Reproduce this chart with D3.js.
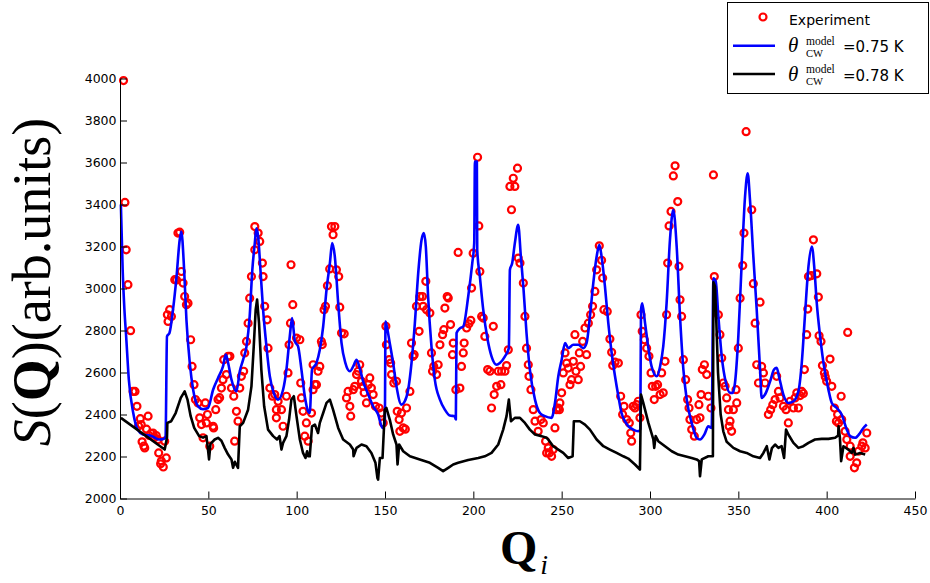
<!DOCTYPE html>
<html>
<head>
<meta charset="utf-8">
<script src="https://cdn.jsdelivr.net/npm/d3@7"></script>
<style>
body { margin: 0; background: #fff; }
.axis text { font-family: "DejaVu Sans", sans-serif; font-size: 12.5px; fill: #000; }
.axis path, .axis line { stroke: #000; }
</style>
</head>
<body>
<div id="chart"></div>
<script>
// values: [Q_i, S(Q)]
var experiment = [
  [2,3990],[2.8,3410],[3.5,3184],[4.5,3018],[6,2799],[7.4,2510],[8.5,2510],[9.6,2439],[10.5,2345],[11.5,2380],
  [12,2352],[12.5,2270],[13.5,2250],[14,2241],[15,2330],[15.9,2392],[16.5,2300],[17.5,2310],[18.7,2312],[19.5,2290],
  [20.5,2300],[21.5,2280],[21.9,2217],[23,2165],[23.4,2178],[24.5,2150],[25.3,2273],[26.2,2193],[26.8,2875],[27.2,2843],
  [28.1,2899],[29.1,2867],[31,3042],[32,3040],[32.8,3264],[33.8,3268],[34.7,3081],[35.7,3026],[36.6,2962],[37.6,2923],
  [38.5,2930],[40,2756],[40.8,2629],[41.9,2542],[42.7,2471],[44.2,2455],[45.1,2384],[46.1,2352],[47,2289],[48.3,2455],
  [48.9,2360],[49.5,2400],[50.8,2249],[52.7,2344],[53,2336],[54.2,2423],[55.5,2471],[56.4,2480],[57.4,2526],[58.3,2566],
  [58.7,2661],[60.2,2590],[61.2,2677],[62.2,2677],[63.1,2526],[64.4,2487],[64.9,2273],[65.9,2415],[66.8,2368],[67.8,2526],
  [68.7,2582],[70,2606],[70.6,2693],[71.6,2748],[72.5,2835],[73.4,2954],[74.4,3057],[76.3,3184],[76.3,3295],[78.2,3264],
  [79.1,3224],[80.6,3121],[81,3057],[81.9,2915],[83.3,2851],[83.8,2716],[84.8,2526],[86.3,2487],[87.6,2495],[88.5,2423],
  [88.5,2384],[89.5,2463],[91.4,2423],[92.3,2344],[94.2,2487],[95.1,2598],[95.7,2732],[96.5,2835],[96.8,3113],[97.8,2923],
  [99.9,2764],[101.8,2756],[102.3,2550],[102.7,2479],[103.6,2415],[105.5,2360],[104.6,2297],[106.5,2273],[108.4,2407],[109.3,2518],
  [110.3,2542],[109.3,2637],[112.1,2606],[113.1,2629],[111.2,2542],[114,2748],[114.5,2733],[115.5,2899],[116.3,2915],[117.4,3013],
  [118.7,3093],[119.7,3295],[121.6,3295],[120.6,3256],[122.5,3089],[123.8,3057],[124.4,2911],[125.4,2788],[126.9,2784],[128.2,2479],
  [129.1,2510],[130.1,2439],[130.6,2392],[132,2518],[132.9,2534],[133.9,2590],[134.8,2606],[135.7,2637],[136.7,2558],[137.6,2534],
  [138.2,2503],[139.5,2455],[140.5,2542],[141.4,2574],[142.3,2526],[143.3,2495],[144.6,2439],
  [146.7,2431],[148,2407],[149,2360],[150.5,2820],[150.8,2732],[152.4,2661],[153.2,2645],[153.7,2590],[155,2550],[156.5,2558],
  [156.9,2415],[158,2376],[159.3,2407],[158.4,2320],[160.3,2336],[161.5,2330],[162.2,2431],[164.1,2510],[165,2740],[165.9,2677],
  [166.5,2685],[167.8,2915],[169.3,2796],[169.7,2962],[171.2,2962],[171.6,2915],[173.1,3034],[173.5,2899],[175.4,2883],[176.3,2693],
  [176.9,2606],[177.6,2629],[179.2,2590],[180.1,2637],[181.1,2732],[182.6,2780],[183.3,2804],[183.9,2907],[185.2,2962],[185.8,2955],
  [187.1,2828],[188.2,2685],[188.6,2740],[190.1,2518],[191.4,3172],
  [192.4,2526],[193.3,2629],[194.3,2693],[194.8,2740],[196.2,2812],[197.5,2832],[198.6,2848],[199,3002],[199.9,3168],[202.4,3625],
  [203.1,3298],[203.7,3081],[204.7,2867],[205.6,2859],[206.5,2772],[208.1,2614],[209.4,2606],[210.3,2431],[211.3,2820],[211.8,2495],
  [213.2,2534],[214.1,2606],[215.6,2542],[216,2606],[217.9,2606],[218.8,2633],[219.8,2708],[220.7,3486],[221.6,3375],[222.6,3525],
  [223.5,3486],[225,3573],[225.4,3145],[226.4,3121],[228.3,3026],[229.2,2867],[230.1,2716],[231.1,2637],[231.5,2582],[232.6,2518],
  [233.9,2423],[234.9,2368],[236.7,2320],[238.3,2376],[239.6,2360],[240.9,2273],[241.5,2217],
  [242.4,2241],[243,2217],[244.3,2201],[245.2,2233],[246.2,2336],[247.1,2423],[248.1,2431],[248.7,2423],[249,2455],[250,2503],
  [250.9,2598],[251.9,2693],[252.8,2645],[253.7,2621],[254.7,2542],[255.6,2566],[256.6,2653],[257.5,2780],[258.1,2606],[259.4,2566],
  [260,2693],[260.7,2629],[261.9,2748],[263.2,2812],[264.1,2685],[265.1,2835],[266.4,2875],[267.5,2915],[268.8,2986],[269.8,3089],
  [271.3,3203],[272.6,3134],[273.2,3050],[273.9,2899],[275.8,2891],[277.3,2759],[278.3,2696],[278.9,2633],[280.2,2649],[282.1,2645],
  [283.4,2487],[284.5,2400],[285.3,2439],[286.8,2376],[288.3,2360],[289.1,2312],
  [289.6,2273],[290.5,2439],[291.5,2431],[292.4,2447],[293.4,2463],[294.3,2384],[294.9,2875],[295.6,2796],[296.8,2756],[298.1,2716],
  [299.4,2677],[300.6,2598],[301.3,2534],[302.4,2471],[303.2,2534],[304.3,2542],[305.7,2495],[306.6,2598],[307.5,2503],[308.5,2653],
  [309.4,2875],[310,3121],[310.8,3298],[311.9,3367],[313.2,3536],[314.2,3584],[315.7,3414],[316.4,3105],[317,2946],[317.9,2867],
  [318.9,2661],[320.2,2566],[321.3,2471],[322.1,2431],[322.6,2376],[323.6,2328],[325.1,2297],[326.4,2376],[327.7,2447],[328.3,2384],
  [328.9,2495],[329.6,2614],[330.8,2637],[332.1,2590],[333,2487],[334.5,2431],[335.9,3541],[336.4,3057],
  [338.7,2875],[339.6,2780],[340.6,2669],[341.5,2550],[342.5,2534],[343.4,2479],[344.4,2423],[344.8,2344],[345.3,2368],[346.2,2320],
  [347.2,2423],[348.7,2518],[349.1,2455],[350,2716],[351,2954],[352.5,3109],[353.2,3264],[354.4,3747],[357.6,3375],[358.5,3023],
  [359.5,2835],[360.4,2637],[361.4,2550],[362.3,2935],[363.2,2629],[364.2,2598],[365.1,2550],[367,2400],[368.3,2423],[369.5,2447],
  [370.8,2471],[371.7,2582],[372.7,2510],[373.6,2479],[375.5,2439],[377,2423],[378.3,2360],[379.3,2463],[381.2,2431],[382.1,2479],
  [383.1,2503],
  [384,2431],[385,2490],[385.9,2510],[386.8,2500],[387.4,2614],[388.7,2780],[389.3,2902],[389.7,3057],[391.2,3061],[392.5,3232],
  [394.4,3070],[395.3,2959],[395.7,2775],[396.8,2748],[397.6,2633],[398.7,2598],[399.2,2580],[400,2558],[401.9,2664],[402.9,2534],
  [404.4,2431],[405.5,2368],[406.2,2400],[406.7,2360],[408.2,2487],[408.5,2376],[410.4,2320],[411.9,2791],[411.4,2281],[413.3,2249],
  [413.3,2201],[415.7,2146],[417,2170],[418,2225],[419.9,2249],[420.5,2265],[421.8,2241],[422.7,2312]
];

// model, theta_CW = 0.75 K (blue)
var model075 = [
  [0.5,3400],[1.5,3090],[2.5,2900],[3.5,2770],[5,2566],[7.5,2407],[10,2328],[13,2305],[18,2297],[22,2281],
  [25,2285],[25.8,2297],[26.6,2772],[28,2788],[30,2899],[32,3057],[33.8,3232],[34.7,3271],[36.3,3089],[37.6,2851],
  [39.5,2645],[41.4,2518],[44.2,2439],[47,2425],[49.8,2431],[52.7,2518],[55.5,2574],[58.3,2629],[59.9,2685],[61.2,2645],
  [63.1,2566],[65.9,2510],[67.8,2606],[69.7,2661],[71.6,2724],[73.4,2867],[74.9,3089],[76.3,3216],[77.2,3287],[78.2,3248],
  [79.5,3089],[81,2899],[82.9,2724],[84.8,2582],[87,2503],[89.5,2471],[92.3,2518],[94.2,2614],[96.1,2772],[97.4,2859],
  [99,2748],[100.8,2724],[102.7,2614],[104.6,2487],[106.5,2415],[107.4,2407],[108.7,2614],[111.2,2645],[113.1,2708],[115,2819],
  [116.9,2994],[118.8,3121],[120.1,3216],[121.6,3152],[123.5,2930],[125.4,2740],[127.6,2645],[130.1,2606],[132,2629],[133.9,2661],
  [135.7,2621],[137.6,2558],[140.5,2495],[143.3,2439],[146.1,2400],[148.6,2336],[149.9,2360],[150.3,2843],[151,2820],[152.7,2740],
  [154.6,2645],[156.5,2534],[159.3,2447],[161.2,2463],[163.1,2518],[165,2645],[166.9,2835],[168.8,3073],[170.7,3232],[172,3264],
  [173.1,3200],[174.4,2962],[176.3,2724],[178.2,2566],[181.1,2471],[183.9,2423],[186.7,2395],[189.5,2392],[190.1,2376],[190.5,2788],
  [192.4,2810],[194.3,2819],[197.1,2962],[199.4,3121],[200.5,3216],[200.9,3604],[202,3604],[202.2,3184],[203.7,3057],[205.6,2899],
  [208.1,2756],[210.3,2677],[213.2,2637],[215,2645],[217.9,2677],[220.1,2716],[220.7,3089],[222,3121],[223.5,3216],[225.4,3303],
  [226.9,3152],[228.3,3010],[230.1,2788],[232,2614],[234.9,2471],[237.7,2407],[240.5,2392],[244.3,2384],[246.2,2455],[248.1,2582],
  [250,2661],[251.9,2740],[253.7,2716],[256.6,2732],[259.4,2732],[262.2,2716],[264.1,2740],[266,2867],[267.9,3026],[269.8,3152],
  [271.3,3208],[272.6,3152],[274.5,3010],[276.4,2835],[278.3,2693],[280.2,2582],[282.1,2487],[283.9,2407],[285.8,2368],[287.7,2345],
  [290.5,2328],[293.4,2320],[294.5,2330],[294.9,2899],[295.6,2930],[297.2,2835],[299.1,2716],[300.9,2629],[303.8,2582],[305.7,2629],
  [307.5,2724],[309.4,2930],[311.3,3232],[313.2,3375],[315.1,3200],[317,2867],[318.9,2614],[320.8,2471],[323.6,2360],[326.4,2289],
  [328.3,2281],[330.8,2305],[333,2344],[334.9,2336],[335.9,3049],[337.2,3035],[338.7,2867],[340.6,2677],[343,2550],[345.3,2503],
  [346.8,2503],[348.1,2550],[350,2772],[351.9,3121],[353.8,3438],[355.3,3549],[356.6,3422],[358.5,3152],[360.4,2899],[362.3,2614],
  [363.2,2479],[365.1,2495],[368,2558],[370.2,2614],[371.7,2622],[373.2,2574],[375.5,2495],[378.3,2455],[381.2,2463],[384,2510],
  [385.9,2645],[387.8,2883],[389.7,3105],[391.6,3200],[393.1,3089],[394.4,2930],[396.3,2772],[398.2,2645],[401,2518],[402.9,2455],
  [405.7,2431],[408.5,2400],[411.4,2328],[413.3,2297],[416.1,2289],[418.9,2312],[420.8,2336],[422.7,2352]
];

// model, theta_CW = 0.78 K (black)
var model078 = [
  [0.5,2384],[25.3,2233],[26.6,2290],[26.8,2360],[29,2368],[31.5,2407],[34.4,2479],[36.6,2510],[38.2,2471],[40,2392],
  [42,2336],[44.8,2297],[47,2290],[48.9,2297],[49.6,2249],[50.4,2186],[51.2,2260],[53.6,2281],[55.5,2289],[57.4,2275],
  [59.3,2240],[61.2,2209],[63.1,2186],[64,2146],[65,2175],[65.9,2160],[66.8,2146],[67.8,2344],[69.7,2360],[72.5,2423],
  [74.4,2534],[75.7,2724],[76.8,2899],[77.6,2947],[78.7,2835],[80,2614],[81.6,2439],[83.8,2328],[86.7,2297],[88.9,2281],
  [90.3,2297],[91.4,2233],[92.3,2265],[94.2,2297],[95.7,2376],[97,2471],[98.4,2487],[99.9,2392],[101.8,2281],[103.6,2217],
  [105,2193],[105.9,2225],[106.5,2201],[107.4,2201],[108.7,2344],[110.3,2352],[112.1,2312],[113.1,2360],[115,2407],[116.9,2455],
  [118.8,2471],[120.6,2423],[123.5,2336],[126.3,2281],[130.1,2257],[132,2233],[132.2,2201],[133.9,2241],[136.7,2257],[139.5,2249],
  [142.3,2217],[144.6,2170],[145.7,2098],[146.1,2090],[147.1,2193],[148.6,2193],[149.9,2423],[150.8,2431],[152.7,2376],[154.6,2305],
  [156.5,2257],[157.1,2162],[158,2257],[160.3,2225],[164.1,2201],[169.7,2186],[175.4,2170],[180.1,2146],[182.9,2130],[185.8,2146],
  [188.6,2162],[191.4,2170],[197.1,2183],[202.8,2193],[206.5,2201],[210.3,2217],[214.1,2257],[216.9,2328],[218.8,2392],[220.1,2471],
  [221.3,2368],[223.5,2384],[226.4,2384],[229.2,2360],[232,2328],[234.9,2305],[238.6,2297],[241.5,2289],[242.4,2281],[245.2,2249],
  [248.1,2233],[250.9,2217],[253.7,2193],[256.2,2201],[256.9,2368],[260.3,2368],[263.2,2352],[266,2328],[269.8,2281],[273.6,2249],
  [277.3,2233],[281.1,2217],[284.9,2201],[287.7,2190],[291.5,2162],[294.3,2138],[294.9,2495],[296.2,2455],[299.1,2360],[301.9,2281],
  [302.4,2241],[303.2,2297],[304.7,2273],[308.5,2249],[312.3,2225],[316,2209],[319.8,2201],[323.6,2193],[326.4,2186],[327.8,2178],
  [328.3,2106],[329.3,2186],[333,2201],[335.6,2201],[335.9,3030],[336.8,3010],[337.5,2850],[338.5,2600],[340,2400],[341.5,2320],
  [343.4,2270],[347.2,2241],[351,2225],[354.7,2217],[358.5,2201],[362.3,2193],[364.2,2217],[366.1,2249],[367.6,2186],[369,2240],
  [370.8,2257],[372.7,2241],[374.5,2249],[375.9,2193],[377,2328],[378.3,2305],[381.2,2265],[384,2241],[386.8,2249],[389.7,2265],
  [393.4,2281],[397.2,2284],[401,2284],[404.8,2289],[406.5,2300],[406.7,2344],[407.5,2289],[408.2,2178],[409.5,2249],[412.3,2233],
  [414.2,2217],[415.2,2241],[416.1,2209],[418.9,2217],[421.8,2209]
];

var xTicks = [0, 50, 100, 150, 200, 250, 300, 350, 400, 450];
var yTicks = [2000, 2200, 2400, 2600, 2800, 3000, 3200, 3400, 3600, 3800, 4000];
var legendValues = ["=0.75 K", "=0.78 K"];

var widthT = 930, heightT = 583;
var margin = {top: 78.5, right: 15, bottom: 84.5, left: 120},
    width = widthT - margin.left - margin.right,
    height = heightT - margin.top - margin.bottom;

var svg = d3.select("#chart")
    .append("svg")
    .attr("width", widthT)
    .attr("height", heightT);

var x = d3.scaleLinear().domain([0, 450]).range([0, width]),
    y = d3.scaleLinear().domain([2000, 4000]).range([height, 0]);

var xAxis = d3.axisBottom(x).tickValues(xTicks).tickFormat(d3.format("d"))
      .tickSizeInner(-7).tickSizeOuter(0).tickPadding(8),
    yAxis = d3.axisLeft(y).tickValues(yTicks).tickFormat(d3.format("d"))
      .tickSizeInner(-7).tickSizeOuter(0).tickPadding(3.5);

var focus = svg.append("g")
    .attr("transform", "translate(" + margin.left + "," + margin.top + ")");

// experiment first, model lines drawn over it
focus.append("g")
  .selectAll("circle")
  .data(experiment)
  .enter().append("circle")
    .attr("cx", function(d) { return x(d[0]); })
    .attr("cy", function(d) { return y(d[1]); })
    .attr("r", 3.5)
    .attr("fill", "none")
    .attr("stroke", "#ff0000")
    .attr("stroke-width", 2.2);

var smooth = d3.line()
    .curve(d3.curveMonotoneX)
    .x(function(d) { return x(d[0]); })
    .y(function(d) { return y(d[1]); });

var sharp = d3.line()
    .x(function(d) { return x(d[0]); })
    .y(function(d) { return y(d[1]); });

focus.append("path")
    .datum(model075)
    .attr("fill", "none")
    .attr("stroke", "#0000ff")
    .attr("stroke-width", 2.6)
    .attr("stroke-linejoin", "round")
    .attr("d", smooth);

focus.append("path")
    .datum(model078)
    .attr("fill", "none")
    .attr("stroke", "#000")
    .attr("stroke-width", 2.6)
    .attr("stroke-linejoin", "round")
    .attr("d", sharp);

focus.append("g")
    .attr("class", "x axis")
    .attr("transform", "translate(0," + height + ")")
    .call(xAxis);

focus.append("g")
    .attr("class", "y axis")
    .call(yAxis);

svg.selectAll(".axis").attr("font-family", null).attr("font-size", null);

// axis titles (LaTeX look)
var ylab = svg.append("text")
    .attr("transform", "translate(50,282) rotate(-90)")
    .attr("text-anchor", "middle")
    .attr("font-family", "Liberation Serif, serif")
    .attr("font-size", 54);
ylab.append("tspan").attr("font-style", "italic").text("S");
ylab.append("tspan").text("(");
ylab.append("tspan").attr("font-weight", "bold").text("Q");
ylab.append("tspan").text(")(arb.units)");

var xlab = svg.append("text")
    .attr("x", 500)
    .attr("y", 564)
    .attr("font-family", "Liberation Serif, serif");
xlab.append("tspan").attr("font-weight", "bold").attr("font-size", 48).text("Q");
xlab.append("tspan").attr("font-style", "italic").attr("font-size", 28).attr("dx", 3).attr("dy", 10).text("i");

// legend
var legend = svg.append("g");
legend.append("rect")
    .attr("x", 727.5).attr("y", 2.5)
    .attr("width", 201).attr("height", 91)
    .attr("fill", "#fff").attr("stroke", "#000").attr("stroke-width", 1);

legend.append("circle")
    .attr("cx", 763).attr("cy", 17).attr("r", 3.5)
    .attr("fill", "none").attr("stroke", "#ff0000").attr("stroke-width", 2.2);
legend.append("text")
    .attr("x", 789).attr("y", 24.5)
    .attr("font-family", "DejaVu Sans, sans-serif").attr("font-size", 14)
    .text("Experiment");

var lineColors = ["#0000ff", "#000"];
legendValues.forEach(function(v, i) {
  var yy = 45.7 + i * 28.3;
  legend.append("line")
      .attr("x1", 733).attr("x2", 775).attr("y1", yy).attr("y2", yy)
      .attr("stroke", lineColors[i]).attr("stroke-width", 2.6);
  var base = yy + 6.5;
  legend.append("text")
      .attr("x", 788).attr("y", base)
      .attr("font-family", "Liberation Serif, serif").attr("font-size", 21)
      .attr("font-style", "italic")
      .text("\u03b8");
  legend.append("text")
      .attr("x", 806).attr("y", base - 7.5)
      .attr("font-family", "Liberation Serif, serif").attr("font-size", 11.5)
      .text("model");
  legend.append("text")
      .attr("x", 806).attr("y", base + 4.6)
      .attr("font-family", "Liberation Serif, serif").attr("font-size", 10.5)
      .text("CW");
  legend.append("text")
      .attr("x", 843).attr("y", base)
      .attr("font-family", "DejaVu Sans, sans-serif").attr("font-size", 15)
      .text(v);
});
</script>
</body>
</html>
